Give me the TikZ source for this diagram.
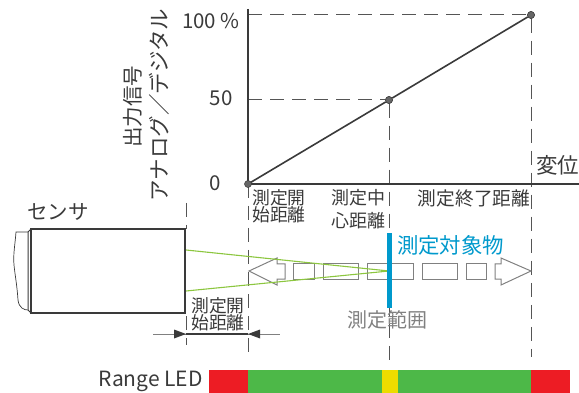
\documentclass[tikz,border=0pt]{standalone}
\usepackage{fontspec}
\setmainfont{Noto Sans CJK JP}
\usetikzlibrary{arrows.meta}
\definecolor{txt}{HTML}{3A3A3A}
\definecolor{gr}{HTML}{808080}
\definecolor{dashc}{HTML}{555555}
\definecolor{dotc}{HTML}{666666}
\definecolor{beam}{HTML}{8CC63F}
\definecolor{bluebar}{HTML}{0099CC}
\definecolor{ledr}{HTML}{ED1C24}
\definecolor{ledg}{HTML}{4DB848}
\definecolor{ledy}{HTML}{EDDC00}
\tikzset{
  lab/.style={text=txt,inner sep=0pt,align=center},
  big/.style={lab,font=\fontsize{20.5}{20}\selectfont},
  small/.style={lab,font=\fontsize{17.8}{17}\selectfont},
  axisline/.style={draw=txt,line width=1.7pt},
  guide/.style={draw=dashc,line width=1pt,dash pattern=on 14pt off 8pt},
  boxy/.style={draw=gr,line width=1pt,fill=none},
  dot/.style={circle,fill=dotc,draw=txt,line width=0.5pt,inner sep=0pt,minimum size=7pt}
}
\begin{document}
\begin{tikzpicture}[x=1pt,y=-1pt]
\useasboundingbox (0,0) rectangle (579,393);
% coordinates
\coordinate (o) at (248,184);
\coordinate (ytop) at (248,9);
\coordinate (xend) at (579,184);
\coordinate (y100) at (248,15);
\coordinate (y50) at (248,100);
\coordinate (g1b) at (531,357);
\coordinate (g2b) at (389,362);
\coordinate (g3b) at (248,357);
\coordinate (g4t) at (186,203);
\coordinate (g4m) at (186,229);
\coordinate (g4n) at (186,316);
\coordinate (g4b) at (186,345);
\coordinate (focus) at (389,271);
\coordinate (b1) at (186,250);
\coordinate (b2) at (186,291);
\coordinate (dl) at (153,334);
\coordinate (dr) at (280,334);
\coordinate (dla) at (186,334);
\coordinate (dra) at (248,334);
% guides
\draw[guide] (g4t) -- (g4m);
\draw[guide] (g4n) -- (g4b);
\draw[guide] (o) -- (g3b);
\node[dot] (m) at (389,100) {};
\node[dot] (e) at (531,15) {};
\draw[guide] (y100) -- (e);
\draw[guide] (y50) -- (m);
\draw[guide] (e) -- (g1b);
\draw[guide] (m) -- (g2b);
% range arrow
\draw[boxy] (249,271) -- (277,258) -- (277,264) -- (285,264) -- (285,279) -- (277,279) -- (277,285) -- cycle;
\draw[boxy] (293,264) rectangle (314,279);
\draw[boxy] (323,264) rectangle (358,279);
\draw[boxy] (367,264) rectangle (413,279);
\draw[boxy] (422,264) rectangle (457,279);
\draw[boxy] (466,264) rectangle (486,279);
\draw[boxy] (531,271) -- (501,258) -- (501,264) -- (495,264) -- (495,279) -- (501,279) -- (501,285) -- cycle;
% beam
\draw[beam,line width=1.1pt] (b1) -- (focus);
\draw[beam,line width=1.1pt] (b2) -- (focus);
\fill[bluebar] (387,233) rectangle (392,308);
% chart
\draw[axisline] (ytop) -- (o) -- (xend);
\draw[draw=txt,line width=1.6pt] (o) -- (m) -- (e);
\node[dot] (z) at (o) {};
\node[dot] at (m) {};
\node[dot] at (e) {};
% sensor
\draw[draw=txt,line width=1.5pt] (31,229) rectangle (185,313);
\draw[draw=txt,line width=2.4pt] (185,229) -- (185,313);
\draw[draw=txt,line width=1pt] (31,229) -- (28,232) -- (28,310) -- (31,313);
\draw[draw=txt,line width=0.7pt] (28,232) -- (16,232) .. controls (15,245) and (13,255) .. (14,265) .. controls (15,275) and (17,285) .. (18,300) .. controls (19,308) and (24,310) .. (28,310);
% dimension
\draw[draw=gr,line width=0.9pt] (dl) -- (dr);
\draw[draw=txt,line width=1.1pt] (dla) -- (dra);
\fill[txt] (dla) -- (174,329.5) -- (174,338.5) -- cycle;
\fill[txt] (dra) -- (260,329.5) -- (260,338.5) -- cycle;
% LED
\fill[ledr] (209,370) rectangle (248,393);
\fill[ledg] (248,370) rectangle (382,393);
\fill[ledy] (382,370) rectangle (398,393);
\fill[ledg] (398,370) rectangle (531,393);
\fill[ledr] (531,370) rectangle (570,393);
% text
\node[big,anchor=east] (t100) at (240,21) {100 \%};
\node[big] (t50) at (221,98) {50};
\node[big] (t0) at (215,183) {0};
\node[big,anchor=west,font=\fontsize{21.5}{21}\selectfont] (tx) at (536,165) {変位};
\node[big,rotate=90] (ty1) at (133,107) {出力信号};
\node[big,rotate=90,font=\fontsize{21.5}{21}\selectfont] (ty2) at (159,105) {アナログ／デジタル};
\node[big] (ts) at (58,212) {センサ};
\node[small] (l1) at (279,206) {測定開\\始距離};
\node[small,font=\fontsize{18}{23}\selectfont] (l2) at (358.5,209) {測定中\\心距離};
\node[small,font=\fontsize{18.7}{19}\selectfont] (l3) at (474,198) {測定終了距離};
\node[small] (l4) at (218,314) {測定開\\始距離};
\node[lab,font=\fontsize{21.4}{21}\selectfont,text=bluebar] (tt) at (450.5,245) {測定対象物};
\node[lab,font=\fontsize{20}{20}\selectfont,text=gr] (tr) at (387,320) {測定範囲};
\node[lab,font=\fontsize{21}{21}\selectfont,anchor=east] (tl) at (203,381) {Range LED};
\end{tikzpicture}
\end{document}
